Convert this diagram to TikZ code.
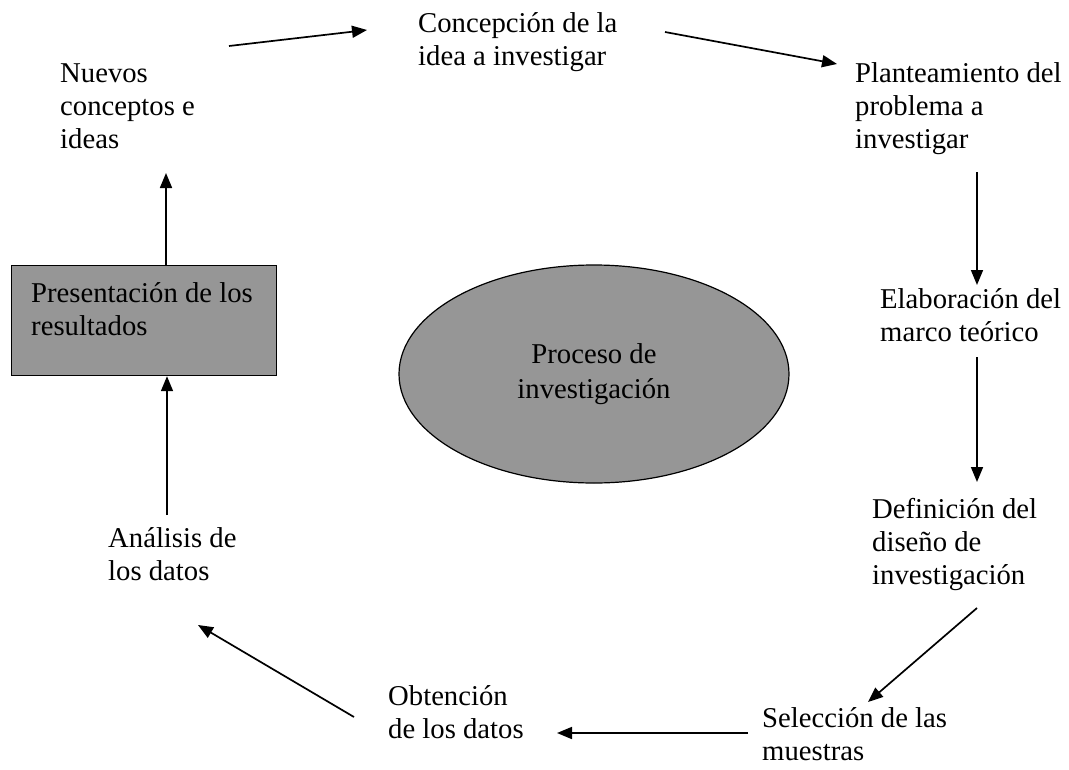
\documentclass[tikz,border=0pt]{standalone}
\usepackage{fontspec}
\setmainfont{Liberation Serif}
\usetikzlibrary{arrows.meta,shapes.geometric}
\definecolor{boxgray}{RGB}{150,150,150}
\tikzset{
  lbl/.style={anchor=north west, inner sep=0pt, align=left, font=\fontsize{28.7}{33}\selectfont},
  conn/.style={line width=1.7pt, -{Triangle[length=15pt,width=12pt]}},
}
\begin{document}
\begin{tikzpicture}[x=1pt,y=-1pt]
\useasboundingbox (0,0) rectangle (1069,769);
% shapes
\node[draw, line width=1.2pt, fill=boxgray, anchor=north west, minimum width=265pt, minimum height=110pt, inner sep=0pt] (rect) at (11,265) {};
\node[draw, line width=1.2pt, fill=boxgray, ellipse, minimum width=390pt, minimum height=218pt, inner sep=0pt, align=center, font=\fontsize{28.7}{35}\selectfont] (proc) at (594,374) {Proceso de\\investigación};
% labels
\node[lbl] (nuevos) at (60,59) {\strut Nuevos\\conceptos e\\ideas};
\node[lbl] (concep) at (418,9) {\strut Concepción de la\\idea a investigar};
\node[lbl] (plant) at (855,59) {\strut Planteamiento del\\problema a\\investigar};
\node[lbl] (elab) at (880,285) {\strut Elaboración del\\marco teórico};
\node[lbl] (defin) at (872,495) {\strut Definición del\\diseño de\\investigación};
\node[lbl] (selec) at (762,704) {\strut Selección de las\\muestras};
\node[lbl] (obten) at (388,682) {\strut Obtención\\de los datos};
\node[lbl] (anal) at (108,524) {\strut Análisis de\\los datos};
\node[lbl] (rtxt) at (31,279) {\strut Presentación de los\\resultados};
% connector ends
\coordinate (a1s) at (229,46);  \coordinate (a1e) at (367,30);
\coordinate (a2s) at (665,32);  \coordinate (a2e) at (837,64);
\coordinate (a3s) at (977,172); \coordinate (a3e) at (977,285);
\coordinate (a4s) at (977,357); \coordinate (a4e) at (977,482);
\coordinate (a5s) at (977,608); \coordinate (a5e) at (868,702);
\coordinate (a6s) at (748,733); \coordinate (a6e) at (557,733);
\coordinate (a7s) at (354,717); \coordinate (a7e) at (198,625);
\coordinate (a8s) at (167,515);
\coordinate (a9e) at (166,173);
% connectors
\draw[conn] (a1s) -- (a1e);
\draw[conn] (a2s) -- (a2e);
\draw[conn] (a3s) -- (a3e);
\draw[conn] (a4s) -- (a4e);
\draw[conn] (a5s) -- (a5e);
\draw[conn] (a6s) -- (a6e);
\draw[conn] (a7s) -- (a7e);
\draw[conn] (a8s) -- (a8s |- rect.south);
\draw[conn] (a9e |- rect.north) -- (a9e);
\end{tikzpicture}
\end{document}
